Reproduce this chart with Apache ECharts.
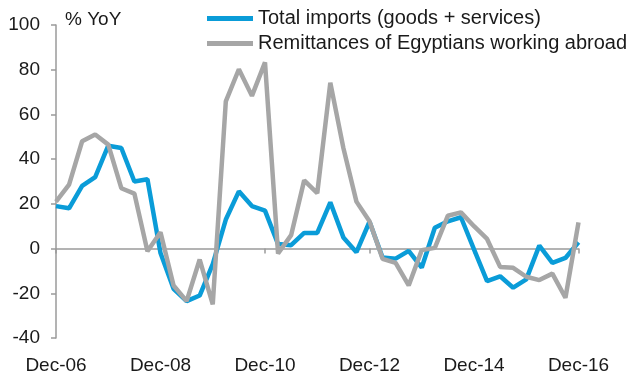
<!DOCTYPE html>
<html>
<head>
<meta charset="utf-8">
<script src="https://cdn.jsdelivr.net/npm/echarts@6/dist/echarts.min.js"></script>
<style>
  html, body { margin: 0; padding: 0; background: #fff; }
  #chart { width: 630px; height: 378px; }
</style>
</head>
<body>
<div id="chart"></div>
<script>
// Quarterly, Dec-06 to Dec-16
const quarters = [
  'Dec-06','Mar-07','Jun-07','Sep-07','Dec-07','Mar-08','Jun-08','Sep-08',
  'Dec-08','Mar-09','Jun-09','Sep-09','Dec-09','Mar-10','Jun-10','Sep-10',
  'Dec-10','Mar-11','Jun-11','Sep-11','Dec-11','Mar-12','Jun-12','Sep-12',
  'Dec-12','Mar-13','Jun-13','Sep-13','Dec-13','Mar-14','Jun-14','Sep-14',
  'Dec-14','Mar-15','Jun-15','Sep-15','Dec-15','Mar-16','Jun-16','Sep-16',
  'Dec-16'
];

// % YoY
const totalImports = [
  19, 18, 28, 32, 46, 45, 30, 31,
  -2, -18, -23.5, -21, -7, 13, 25.6, 19,
  17, 2, 1.5, 7, 7, 20.7, 5, -1.6,
  12, -4, -4.5, -1, -8.5, 9.3, 12.2, 14,
  -0.4, -14.6, -12.4, -17.5, -13.8, 1.3, -6.4, -4.2,
  2.8
];

const remittances = [
  21, 28.6, 48, 51, 46.5, 27, 24.6, -1.2,
  7.3, -16.5, -23.5, -4.9, -25, 65.8, 80.2, 68.3,
  83.3, -2.2, 6, 30.5, 24.8, 74.2, 45, 21,
  12.2, -4.6, -6.4, -16.5, -0.7, 0.3, 14.7, 16.2,
  10, 4.3, -8.2, -8.6, -12.6, -14.1, -11.2, -22,
  11.7
];

const seriesNames = ['Total imports (goods + services)', 'Remittances of Egyptians working abroad'];
const seriesColors = ['#0a9cd8', '#a6a6a6'];

const FONT = 'Liberation Sans, Arial, sans-serif';
const AXIS_GREY = '#9a9a9a';
const TEXT = '#1a1a1a';

const chart = echarts.init(document.getElementById('chart'), null, { renderer: 'canvas' });

chart.setOption({
  animation: false,
  backgroundColor: '#ffffff',
  textStyle: { fontFamily: FONT },
  grid: { left: 56, right: 51.5, top: 25, bottom: 40, containLabel: false },
  legend: {
    orient: 'vertical',
    left: 202,
    top: 1,
    icon: 'rect',
    itemWidth: 46,
    itemHeight: 5,
    itemGap: 0,
    data: seriesNames,
    textStyle: { fontSize: 20, color: TEXT, fontFamily: FONT, lineHeight: 25 }
  },
  graphic: [{
    type: 'text',
    left: 65,
    top: 10,
    style: { text: '% YoY', fontSize: 19, fill: TEXT, fontFamily: FONT }
  }],
  xAxis: [
    {
      // labels along the bottom edge
      type: 'category',
      data: quarters,
      boundaryGap: false,
      position: 'bottom',
      axisLine: { show: false, onZero: false },
      axisTick: { show: false },
      axisLabel: { interval: 7, fontSize: 19, color: TEXT, margin: 18, fontFamily: FONT },
      splitLine: { show: false }
    },
    {
      // zero line with year ticks
      type: 'category',
      data: quarters,
      boundaryGap: false,
      position: 'bottom',
      axisLine: { show: true, onZero: true, lineStyle: { color: AXIS_GREY, width: 1.5 } },
      axisTick: { show: true, interval: 7, length: 5, lineStyle: { color: AXIS_GREY, width: 1.5 } },
      axisLabel: { show: false },
      splitLine: { show: false }
    }
  ],
  yAxis: {
    type: 'value',
    min: -40,
    max: 100,
    interval: 20,
    axisLine: { show: true, lineStyle: { color: AXIS_GREY, width: 1.5 } },
    axisTick: { show: true, length: 5, lineStyle: { color: AXIS_GREY, width: 1.5 } },
    axisLabel: { fontSize: 19, color: TEXT, margin: 16, fontFamily: FONT },
    splitLine: { show: false }
  },
  series: [
    {
      name: seriesNames[0],
      type: 'line',
      xAxisIndex: 0,
      data: totalImports,
      symbol: 'none',
      color: seriesColors[0],
      lineStyle: { color: seriesColors[0], width: 4.5 }
    },
    {
      name: seriesNames[1],
      type: 'line',
      xAxisIndex: 0,
      data: remittances,
      symbol: 'none',
      color: seriesColors[1],
      lineStyle: { color: seriesColors[1], width: 4.5 }
    }
  ]
});
</script>
</body>
</html>
